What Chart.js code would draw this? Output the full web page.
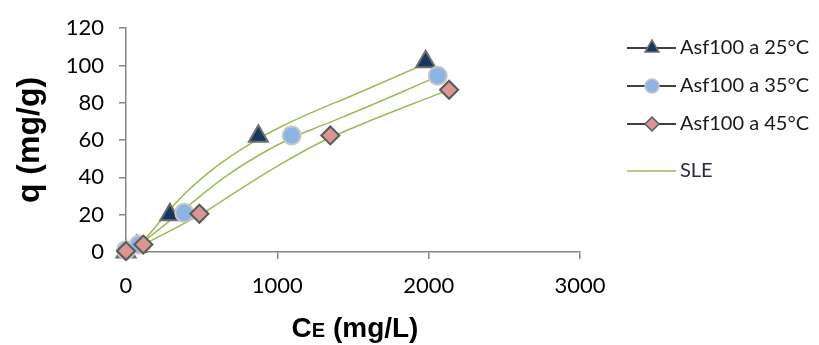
<!DOCTYPE html>
<html lang="es">
<head>
    <meta charset="UTF-8">
    <title>Isotermas Asf100</title>
    <script src="https://cdn.jsdelivr.net/npm/chart.js@4.4.0/dist/chart.umd.min.js"></script>
    <style>
        body { margin: 0; background: #fff; }
        .wrap { position: relative; width: 819px; height: 345px; }
    </style>
</head>
<body>
    <div class="wrap">
        <canvas id="isoChart"></canvas>
    </div>

    <script>
        // measured points (Ce in mg/L, q in mg/g)
        const ce25 = [0, 70, 290, 875, 1980];
        const q25 = [0, 3, 20, 62, 102];
        const ce35 = [0, 85, 385, 1095, 2060];
        const q35 = [1, 4, 21, 62.5, 94.5];
        const ce45 = [0, 115, 485, 1350, 2135];
        const q45 = [0.5, 4, 20.5, 62.5, 87];

        // SLE fitted curves
        const fitCe25 = [0, 90, 360, 600, 820, 1020, 1290, 1470, 1980];
        const fitQ25 = [0, 4, 29, 46, 58, 67, 77, 83, 101];
        const fitCe35 = [0, 90, 400, 650, 880, 1090, 1300, 1600, 2000, 2060];
        const fitQ35 = [0, 4, 24, 40, 52, 61, 68, 78, 92, 94];
        const fitCe45 = [0, 115, 490, 760, 1020, 1290, 1600, 1850, 2135];
        const fitQ45 = [0, 4, 20, 34, 47, 59, 70, 78, 87];

        const xTicks = [0, 1000, 2000, 3000];
        const yTicks = [0, 20, 40, 60, 80, 100, 120];

        const legendNames = ['Asf100 a 25°C', 'Asf100 a 35°C', 'Asf100 a 45°C', 'SLE'];

        const fitColor = '#9BBB59';

        function pts(xs, ys) {
            return xs.map((x, i) => ({ x: x, y: ys[i] }));
        }

        function markerSet(label, xs, ys, style, radius, fill, border, order) {
            return {
                label: label,
                data: pts(xs, ys),
                showLine: false,
                pointStyle: style,
                pointRadius: radius,
                pointBackgroundColor: fill,
                pointBorderColor: border,
                pointBorderWidth: 2,
                order: order
            };
        }

        function fitSet(xs, ys) {
            return {
                label: 'SLE',
                data: pts(xs, ys),
                showLine: true,
                borderColor: fitColor,
                borderWidth: 1.5,
                pointRadius: 0,
                tension: 0.35,
                fill: false,
                order: 5
            };
        }

        const markers = [
            { style: 'triangle', r: 11, fill: '#17375E', border: '#6E6E6E', lr: 8 },
            { style: 'circle', r: 9, fill: '#8DB4E2', border: '#C6C6C6', lr: 7 },
            { style: 'rectRot', r: 9, fill: '#D99694', border: '#5A5A5A', lr: 7 }
        ];

        // legend and titles drawn on the canvas
        const decorPlugin = {
            id: 'decor',
            afterDraw(chart) {
                const ctx = chart.ctx;
                ctx.save();

                // y title
                ctx.fillStyle = '#000';
                ctx.font = 'bold 32px "Liberation Sans", Arial, sans-serif';
                ctx.textAlign = 'center';
                ctx.textBaseline = 'middle';
                ctx.translate(30, 140);
                ctx.rotate(-Math.PI / 2);
                ctx.fillText('q (mg/g)', 0, 0);
                ctx.setTransform(1, 0, 0, 1, 0, 0);

                // x title with small E
                const big = 'bold 28px "Liberation Sans", Arial, sans-serif';
                const small = 'bold 20px "Liberation Sans", Arial, sans-serif';
                ctx.textAlign = 'left';
                ctx.textBaseline = 'alphabetic';
                ctx.font = big;
                const wC = ctx.measureText('C').width;
                const wR = ctx.measureText(' (mg/L)').width;
                ctx.font = small;
                const wE = ctx.measureText('E').width;
                let tx = 355 - (wC + wE + wR) / 2;
                const by = 337;
                ctx.font = big;
                ctx.fillText('C', tx, by);
                tx += wC;
                ctx.font = small;
                ctx.fillText('E', tx, by);
                tx += wE;
                ctx.font = big;
                ctx.fillText(' (mg/L)', tx, by);

                // legend
                const rows = [48, 86, 124, 171];
                ctx.font = '20px Lato, sans-serif';
                ctx.textBaseline = 'middle';
                for (let i = 0; i < 4; i++) {
                    const y = rows[i];
                    ctx.beginPath();
                    ctx.moveTo(627, y);
                    ctx.lineTo(676, y);
                    ctx.lineWidth = 1.5;
                    ctx.strokeStyle = i < 3 ? '#000' : fitColor;
                    ctx.stroke();
                    if (i < 3) {
                        const m = markers[i];
                        ctx.fillStyle = m.fill;
                        ctx.strokeStyle = m.border;
                        ctx.lineWidth = 1.5;
                        Chart.helpers.drawPoint(ctx, {
                            pointStyle: m.style,
                            radius: m.lr,
                            rotation: 0,
                            borderWidth: 1.5
                        }, 652, y);
                    }
                    ctx.fillStyle = i < 3 ? '#1a1a1a' : '#2a2a3a';
                    ctx.fillText(legendNames[i], 680, y);
                }
                ctx.restore();
            }
        };

        const ctx = document.getElementById('isoChart').getContext('2d');
        new Chart(ctx, {
            type: 'scatter',
            data: {
                datasets: [
                    markerSet(legendNames[0], ce25, q25, markers[0].style, markers[0].r, markers[0].fill, markers[0].border, 2),
                    markerSet(legendNames[1], ce35, q35, markers[1].style, markers[1].r, markers[1].fill, markers[1].border, 1),
                    markerSet(legendNames[2], ce45, q45, markers[2].style, markers[2].r, markers[2].fill, markers[2].border, 0),
                    fitSet(fitCe25, fitQ25),
                    fitSet(fitCe35, fitQ35),
                    fitSet(fitCe45, fitQ45)
                ]
            },
            options: {
                responsive: true,
                maintainAspectRatio: false,
                animation: false,
                clip: false,
                layout: { padding: { left: 0, top: 23, right: 239, bottom: 0 } },
                plugins: {
                    legend: { display: false },
                    tooltip: { enabled: false }
                },
                scales: {
                    x: {
                        type: 'linear',
                        min: xTicks[0],
                        max: xTicks[xTicks.length - 1],
                        afterBuildTicks: (s) => { s.ticks = xTicks.map(v => ({ value: v })); },
                        afterFit: (s) => { s.height = 93; },
                        border: { color: '#868686', width: 1.5 },
                        grid: { drawOnChartArea: false, drawTicks: true, tickLength: 7, color: '#868686', lineWidth: 1.5 },
                        ticks: { color: '#000', padding: 14, font: { family: 'Lato', size: 22 }, callback: (v) => String(v) }
                    },
                    y: {
                        type: 'linear',
                        min: yTicks[0],
                        max: yTicks[yTicks.length - 1],
                        afterBuildTicks: (s) => { s.ticks = yTicks.map(v => ({ value: v })); },
                        afterFit: (s) => { s.width = 126; },
                        border: { color: '#868686', width: 1.5 },
                        grid: { drawOnChartArea: false, drawTicks: true, tickLength: 7, color: '#868686', lineWidth: 1.5 },
                        ticks: { color: '#000', padding: 15, font: { family: 'Lato', size: 22 }, callback: (v) => String(v) }
                    }
                }
            },
            plugins: [decorPlugin]
        });
    </script>
</body>
</html>
